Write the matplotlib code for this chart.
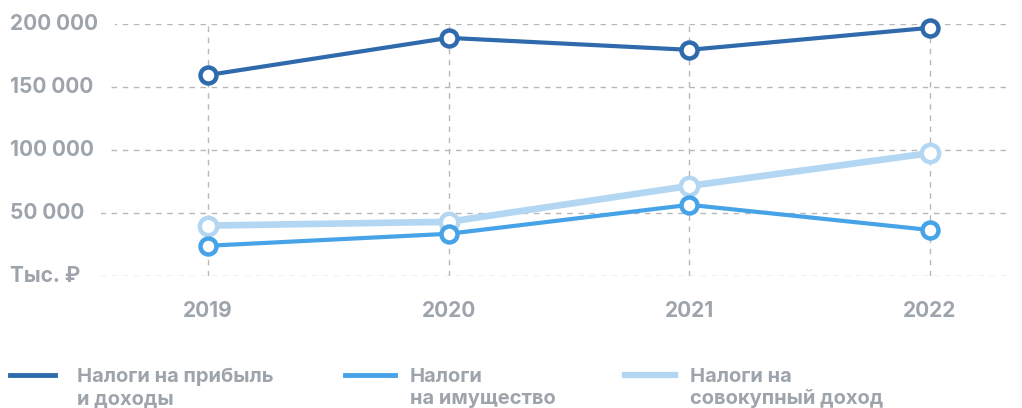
import matplotlib
matplotlib.use("Agg")
import matplotlib.pyplot as plt
from matplotlib.lines import Line2D

# данные, тыс. руб.
years = [2019, 2020, 2021, 2022]
profit_tax = [159500, 189000, 179500, 197000]
property_tax = [24000, 33500, 56500, 36500]
income_tax = [40000, 43000, 71500, 97500]

yticks = [0, 50000, 100000, 150000, 200000]
ytick_labels = ["Тыс. ₽", "50 000", "100 000", "150 000", "200 000"]

series_names = ["Налоги на прибыль\nи доходы", "Налоги\nна имущество", "Налоги на\nсовокупный доход"]
colors = ["#2f6aad", "#46a3e8", "#b3d7f2"]

grey = "#9ea4ab"
font = ["Inter", "DejaVu Sans"]

W, H = 1022, 408
fig = plt.figure(figsize=(W / 100, H / 100), dpi=100)
# оси: x от 0 до 1010 px, y от 24 до 276 px
ax = fig.add_axes([0, 1 - 276 / H, 1010 / W, (276 - 24) / H])
ax.set_xlim(2019 - 208 / 240.67, 2022 + 80 / 240.67)
ax.set_ylim(0, 200000)
for s in ax.spines.values():
    s.set_visible(False)
ax.set_xticks([])
ax.set_yticks([])

# сетка
for y in yticks:
    ax.axhline(y, color="#b8b8b8", lw=1, ls=(0, (4, 4)), zorder=1)
for x in years:
    ax.axvline(x, color="#b8b8b8", lw=1, ls=(0, (4, 4)), zorder=1)

# подписи оси Y поверх сетки (белая подложка обрезает пунктир)
for y, lab in zip(yticks, ytick_labels):
    ax.text(10 / 1010, y, lab, transform=ax.get_yaxis_transform(), ha="left", va="center",
            fontsize=15, fontweight="bold", color=grey, family=font, zorder=3,
            bbox=dict(facecolor="white", edgecolor="none", boxstyle="square,pad=0.8"))

# подписи годов
for x in years:
    ax.text(x, -28000, str(x), ha="center", va="center", fontsize=15,
            fontweight="bold", color=grey, family=font)

lines = [profit_tax, property_tax, income_tax]
widths = [3, 3, 4.8]
msizes = [11.5, 11.5, 12.5]
for vals, c, lw, ms in zip(lines[::-1], colors[::-1], widths[::-1], msizes[::-1]):
    ax.plot(years, vals, color=c, lw=lw, marker="o", ms=ms, mfc="white", mec=c,
            mew=3.2, zorder=4, clip_on=False, solid_capstyle="butt")

# легенда
leg_x = [(10, 55, 77), (345, 395, 410), (625, 675, 690)]
for (x0, x1, tx), name, c, lw in zip(leg_x, series_names, colors, widths):
    fig.add_artist(Line2D([x0 / W, x1 / W], [1 - 375 / H] * 2, color=c, lw=3.5 if lw < 4 else 4.5,
                          transform=fig.transFigure))
    first, second = name.split("\n")
    fig.text(tx / W, 1 - 382 / H, first, ha="left", va="baseline", fontsize=14.5,
             fontweight="bold", color=grey, family=font)
    fig.text(tx / W, 1 - 404 / H, second, ha="left", va="baseline", fontsize=14.5,
             fontweight="bold", color=grey, family=font)

fig.savefig("out.png", dpi=100)
